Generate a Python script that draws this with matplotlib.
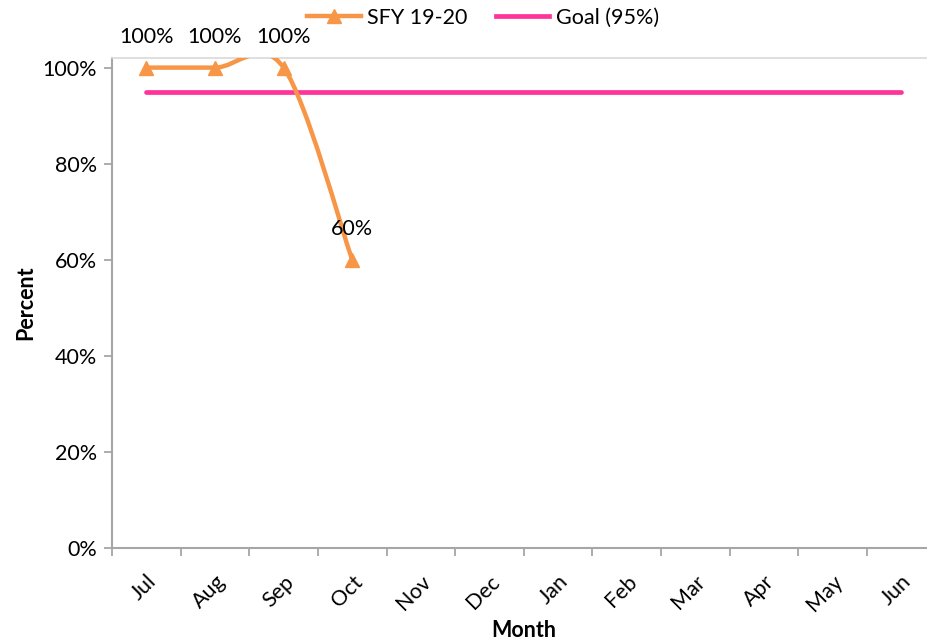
import matplotlib
matplotlib.use("Agg")
import matplotlib.pyplot as plt
from matplotlib.path import Path
from matplotlib.patches import PathPatch
from matplotlib.lines import Line2D
import numpy as np

plt.rcParams['font.family'] = ['Lato', 'DejaVu Sans']

months = ["Jul", "Aug", "Sep", "Oct", "Nov", "Dec", "Jan", "Feb", "Mar", "Apr", "May", "Jun"]
sfy_values = [1.00, 1.00, 1.00, 0.60]
goal_value = 0.95
sfy_label = "SFY 19-20"
goal_label = "Goal (95%)"

orange = "#F79646"
pink = "#FF3399"
grey = "#A6A6A6"
FS = 15.5

W, H = 927, 643
fig = plt.figure(figsize=(W / 100, H / 100), dpi=100)
ax = fig.add_axes([112 / W, 1 - 548 / H, (935.6 - 112) / W, (548 - 58) / H])

x = np.arange(len(sfy_values), dtype=float)
y = np.array(sfy_values)

# Smoothed line: cubic Bezier segments with Catmull-Rom style control points
verts = [(x[0], y[0])]
codes = [Path.MOVETO]
n = len(x)
for i in range(n - 1):
    p0 = np.array([x[max(i - 1, 0)], y[max(i - 1, 0)]])
    p1 = np.array([x[i], y[i]])
    p2 = np.array([x[i + 1], y[i + 1]])
    p3 = np.array([x[min(i + 2, n - 1)], y[min(i + 2, n - 1)]])
    c1 = p1 + (p2 - p0) / 6.0
    c2 = p2 - (p3 - p1) / 6.0
    verts += [tuple(c1), tuple(c2), tuple(p2)]
    codes += [Path.CURVE4] * 3
patch = PathPatch(Path(verts, codes), facecolor="none", edgecolor=orange,
                  lw=3.2, capstyle="round", joinstyle="round", zorder=3)
ax.add_patch(patch)
ax.plot(x, y, linestyle="none", marker="^", markersize=10, color=orange,
        zorder=4, clip_on=False)

gx = np.arange(len(months))
ax.plot(gx, [goal_value] * len(months), color=pink, lw=3.4,
        solid_capstyle="round", zorder=2)

for xi, yi in zip(x, y):
    ax.annotate(f"{yi * 100:.0f}%", (xi, yi), xytext=(0, 15), textcoords="offset points",
                ha="center", va="bottom", fontsize=FS, color="black",
                annotation_clip=False)

ax.set_xlim(-0.5, len(months) - 0.5)
ax.set_ylim(0, 1.02)
ax.set_yticks([0, 0.2, 0.4, 0.6, 0.8, 1.0])
ax.set_yticklabels(["0%", "20%", "40%", "60%", "80%", "100%"], fontsize=FS)
ax.set_xticks(np.arange(-0.5, len(months) + 0.5, 1.0))
ax.set_xticklabels([])
ax.set_xticks(gx, minor=True)
ax.set_xticklabels(months, minor=True, rotation=45, ha="right",
                   rotation_mode="anchor", fontsize=FS)
ax.tick_params(axis="x", which="minor", length=0, pad=17)
ax.tick_params(axis="x", which="major", length=6, color=grey, width=1.3)
ax.tick_params(axis="y", length=6, color=grey, width=1.3, pad=5)

for side in ["left", "bottom"]:
    ax.spines[side].set_color(grey)
    ax.spines[side].set_linewidth(1.5)
ax.spines["top"].set_color("#D9D9D9")
ax.spines["top"].set_linewidth(1.2)
ax.spines["right"].set_visible(False)

ax.set_ylabel("Percent", fontsize=FS, fontweight="bold", labelpad=4)
ax.set_xlabel("Month", fontsize=FS, fontweight="bold", labelpad=3)

handles = [
    Line2D([0], [0], color=orange, lw=3.2, marker="^", markersize=10),
    Line2D([0], [0], color=pink, lw=3.4),
]
fig.legend(handles, [sfy_label, goal_label], loc="center", ncol=2,
           bbox_to_anchor=(483 / W, 1 - 18 / H), frameon=False, fontsize=FS,
           handlelength=2.5, handletextpad=0.3, columnspacing=1.3)

fig.savefig("out.png", dpi=100)
